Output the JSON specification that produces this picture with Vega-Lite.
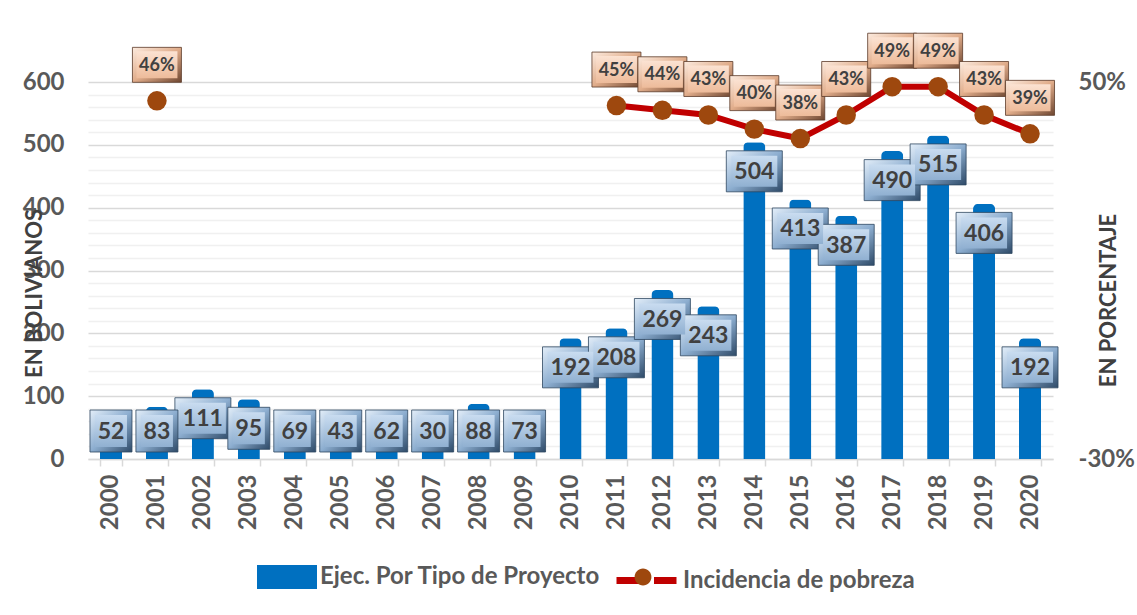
{
  "$schema": "https://vega.github.io/schema/vega-lite/v6.json",
  "width": 965,
  "height": 377,
  "autosize": "none",
  "padding": {"left": 88, "top": 82, "right": 84, "bottom": 156},
  "background": "white",
  "config": {"font": "Lato", "view": {"stroke": null}},
  "data": {
    "values": [
      {"year": 2000, "ejec": 52, "pob": null},
      {"year": 2001, "ejec": 83, "pob": 0.46},
      {"year": 2002, "ejec": 111, "pob": null},
      {"year": 2003, "ejec": 95, "pob": null},
      {"year": 2004, "ejec": 69, "pob": null},
      {"year": 2005, "ejec": 43, "pob": null},
      {"year": 2006, "ejec": 62, "pob": null},
      {"year": 2007, "ejec": 30, "pob": null},
      {"year": 2008, "ejec": 88, "pob": null},
      {"year": 2009, "ejec": 73, "pob": null},
      {"year": 2010, "ejec": 192, "pob": null},
      {"year": 2011, "ejec": 208, "pob": 0.45},
      {"year": 2012, "ejec": 269, "pob": 0.44},
      {"year": 2013, "ejec": 243, "pob": 0.43},
      {"year": 2014, "ejec": 504, "pob": 0.40},
      {"year": 2015, "ejec": 413, "pob": 0.38},
      {"year": 2016, "ejec": 387, "pob": 0.43},
      {"year": 2017, "ejec": 490, "pob": 0.49},
      {"year": 2018, "ejec": 515, "pob": 0.49},
      {"year": 2019, "ejec": 406, "pob": 0.43},
      {"year": 2020, "ejec": 192, "pob": 0.39}
    ]
  },
  "encoding": {
    "x": {
      "field": "year",
      "type": "ordinal",
      "scale": {"paddingInner": 0.52, "paddingOuter": 0.26},
      "axis": {
        "title": null,
        "labelAngle": 270,
        "labelFont": "Lato",
        "labelFontSize": 24,
        "labelFontWeight": "bold",
        "labelColor": "#595959",
        "labelPadding": 8,
        "domainColor": "#D9D9D9",
        "domainWidth": 1.5,
        "tickColor": "#D9D9D9",
        "tickWidth": 1.5,
        "tickSize": 7,
        "tickBand": "extent",
        "grid": false
      }
    }
  },
  "layer": [
    {
      "mark": {"type": "bar", "cornerRadiusTopLeft": 5, "cornerRadiusTopRight": 5},
      "encoding": {
        "y": {
          "field": "ejec",
          "type": "quantitative",
          "scale": {"domain": [0, 600], "nice": false},
          "axis": {
            "orient": "left",
            "title": "EN BOLIVIANOS",
            "values": [0, 20, 40, 60, 80, 100, 120, 140, 160, 180, 200, 220, 240, 260, 280, 300, 320, 340, 360, 380, 400, 420, 440, 460, 480, 500, 520, 540, 560, 580, 600],
            "labelExpr": "datum.value % 100 === 0 ? datum.label : ''",
            "grid": true,
            "gridColor": {"condition": {"test": "datum.value % 100 === 0", "value": "#D9D9D9"}, "value": "#F0F0F0"},
            "gridWidth": 1.5,
            "domain": false,
            "ticks": false,
            "labelPadding": 24,
            "labelFont": "Lato",
            "labelFontSize": 24,
            "labelFontWeight": "bold",
            "labelColor": "#595959",
            "titleFont": "Lato",
            "titleFontSize": 22,
            "titleFontWeight": "bold",
            "titleColor": "#404040",
            "titleAngle": 270,
            "titleX": -54,
            "titleY": 211,
            "titleAlign": "center",
            "titleBaseline": "middle"
          }
        },
        "fill": {
          "datum": "Ejec. Por Tipo de Proyecto",
          "type": "nominal",
          "scale": {"domain": ["Ejec. Por Tipo de Proyecto"], "range": ["#0070C0"]},
          "legend": {
            "orient": "none",
            "legendX": 169,
            "legendY": 465,
            "direction": "horizontal",
            "title": null,
            "labelFont": "Lato",
            "labelFontSize": 24,
            "labelFontWeight": "bold",
            "labelColor": "#595959",
            "labelLimit": 500,
            "labelOffset": 3,
            "symbolSize": 3600,
            "symbolType": "M-1,-0.4L1,-0.4L1,0.4L-1,0.4Z",
            "symbolStrokeWidth": 0,
            "symbolOpacity": 1
          }
        }
      }
    },
    {
      "transform": [{"filter": "datum.year >= 2011"}],
      "mark": {"type": "line", "strokeWidth": 6},
      "encoding": {
        "y": {
          "field": "pob",
          "type": "quantitative",
          "scale": {"domain": [-0.3, 0.5], "nice": false},
          "axis": {
            "orient": "right",
            "title": "EN PORCENTAJE",
            "values": [-0.3, 0.5],
            "format": ".0%",
            "labelExpr": "replace(datum.label, '\u2212', '-')",
            "grid": false,
            "domain": false,
            "ticks": false,
            "labelPadding": 25,
            "labelFont": "Lato",
            "labelFontSize": 24,
            "labelFontWeight": "bold",
            "labelColor": "#595959",
            "titleFont": "Lato",
            "titleFontSize": 22,
            "titleFontWeight": "bold",
            "titleColor": "#404040",
            "titleAngle": 270,
            "titleX": 55,
            "titleY": 218,
            "titleAlign": "center",
            "titleBaseline": "middle"
          }
        },
        "stroke": {
          "datum": "Incidencia de pobreza",
          "type": "nominal",
          "scale": {"domain": ["Incidencia de pobreza"], "range": ["#C00000"]},
          "legend": {
            "orient": "none",
            "legendX": 525,
            "legendY": 465,
            "direction": "horizontal",
            "title": null,
            "labelFont": "Lato",
            "labelFontSize": 24,
            "labelFontWeight": "bold",
            "labelColor": "#595959",
            "labelLimit": 500,
            "labelOffset": 3,
            "symbolSize": 3600,
            "symbolType": "M-1,0L-0.25,0M0.25,0L1,0",
            "symbolStrokeWidth": 7,
            "symbolFillColor": "transparent",
            "symbolOpacity": 1
          }
        }
      }
    },
    {
      "transform": [{"filter": "datum.pob != null"}],
      "mark": {"type": "point", "shape": "circle", "filled": true, "size": 380, "opacity": 1},
      "encoding": {
        "y": {"field": "pob", "type": "quantitative", "scale": {"domain": [-0.3, 0.5], "nice": false}, "axis": null},
        "color": {
          "datum": "Incidencia de pobreza (marcador)",
          "type": "nominal",
          "scale": {"domain": ["Incidencia de pobreza (marcador)"], "range": ["#9E480E"]},
          "legend": {
            "orient": "none",
            "legendX": 525,
            "legendY": 465,
            "direction": "horizontal",
            "title": null,
            "labelExpr": "''",
            "labelFontSize": 24,
            "labelOffset": 0,
            "symbolSize": 3600,
            "symbolType": "M-0.28,0A0.28,0.28,0,1,1,0.28,0A0.28,0.28,0,1,1,-0.28,0Z",
            "symbolStrokeWidth": 0,
            "symbolOpacity": 1
          }
        }
      }
    },
    {
      "transform": [{"filter": "datum.pob != null"}],
      "mark": {
        "type": "point", "shape": "M-1,-0.714L1,-0.714L1,0.714L-1,0.714Z", "size": 2401, "filled": true, "opacity": 1,
        "fill": {"gradient": "linear", "x1": 0, "y1": 0, "x2": 1, "y2": 1, "stops": [{"offset": 0, "color": "#FCEBDF"}, {"offset": 0.5, "color": "#E0AC8A"}, {"offset": 1, "color": "#6E4630"}]},
        "stroke": "#5A3A28", "strokeWidth": 0.8, "yOffset": -36
      },
      "encoding": {
        "y": {"field": "pob", "type": "quantitative", "scale": {"domain": [-0.3, 0.5], "nice": false}, "axis": null}
      }
    },
    {
      "transform": [{"filter": "datum.pob != null"}],
      "mark": {
        "type": "point", "shape": "M-1,-0.659L1,-0.659L1,0.659L-1,0.659Z", "size": 1681, "filled": true, "opacity": 1,
        "fill": {"gradient": "linear", "x1": 0, "y1": 0, "x2": 0, "y2": 1, "stops": [{"offset": 0, "color": "#FBE2D2"}, {"offset": 1, "color": "#EDBB9A"}]},
        "yOffset": -36
      },
      "encoding": {
        "y": {"field": "pob", "type": "quantitative", "scale": {"domain": [-0.3, 0.5], "nice": false}, "axis": null}
      }
    },
    {
      "transform": [{"filter": "datum.pob != null"}],
      "mark": {"type": "text", "font": "Lato", "fontSize": 18, "fontWeight": "bold", "color": "#404040", "baseline": "middle", "yOffset": -35},
      "encoding": {
        "y": {"field": "pob", "type": "quantitative", "scale": {"domain": [-0.3, 0.5], "nice": false}, "axis": null},
        "text": {"field": "pob", "type": "quantitative", "format": ".0%"}
      }
    },
    {
      "transform": [{"filter": "datum.ejec >= 100"}],
      "mark": {
        "type": "point", "shape": "M-1,-0.732L1,-0.732L1,0.732L-1,0.732Z", "size": 3136, "filled": true, "opacity": 1,
        "fill": {"gradient": "linear", "x1": 0, "y1": 0, "x2": 1, "y2": 1, "stops": [{"offset": 0, "color": "#E3EEF9"}, {"offset": 0.5, "color": "#8DAED0"}, {"offset": 1, "color": "#2E4A68"}]},
        "stroke": "#2D4660", "strokeWidth": 0.8, "yOffset": 29
      },
      "encoding": {
        "y": {"field": "ejec", "type": "quantitative", "scale": {"domain": [90.7, 600], "range": [320, 0], "clamp": true, "nice": false}, "axis": null}
      }
    },
    {
      "transform": [{"filter": "datum.ejec >= 100"}],
      "mark": {
        "type": "point", "shape": "M-1,-0.674L1,-0.674L1,0.674L-1,0.674Z", "size": 2116, "filled": true, "opacity": 1,
        "fill": {"gradient": "linear", "x1": 0, "y1": 0, "x2": 0, "y2": 1, "stops": [{"offset": 0, "color": "#C9DCF0"}, {"offset": 1, "color": "#90B0D1"}]},
        "yOffset": 29
      },
      "encoding": {
        "y": {"field": "ejec", "type": "quantitative", "scale": {"domain": [90.7, 600], "range": [320, 0], "clamp": true, "nice": false}, "axis": null}
      }
    },
    {
      "transform": [{"filter": "datum.ejec < 100"}],
      "mark": {
        "type": "point", "shape": "square", "size": 1764, "filled": true, "opacity": 1,
        "fill": {"gradient": "linear", "x1": 0, "y1": 0, "x2": 1, "y2": 1, "stops": [{"offset": 0, "color": "#E3EEF9"}, {"offset": 0.5, "color": "#8DAED0"}, {"offset": 1, "color": "#2E4A68"}]},
        "stroke": "#2D4660", "strokeWidth": 0.8, "yOffset": 29
      },
      "encoding": {
        "y": {"field": "ejec", "type": "quantitative", "scale": {"domain": [90.7, 600], "range": [320, 0], "clamp": true, "nice": false}, "axis": null}
      }
    },
    {
      "transform": [{"filter": "datum.ejec < 100"}],
      "mark": {
        "type": "point", "shape": "square", "size": 1024, "filled": true, "opacity": 1,
        "fill": {"gradient": "linear", "x1": 0, "y1": 0, "x2": 0, "y2": 1, "stops": [{"offset": 0, "color": "#C9DCF0"}, {"offset": 1, "color": "#90B0D1"}]},
        "yOffset": 29
      },
      "encoding": {
        "y": {"field": "ejec", "type": "quantitative", "scale": {"domain": [90.7, 600], "range": [320, 0], "clamp": true, "nice": false}, "axis": null}
      }
    },
    {
      "mark": {"type": "text", "font": "Lato", "fontSize": 23, "fontWeight": "bold", "color": "#404040", "baseline": "middle", "yOffset": 30},
      "encoding": {
        "y": {"field": "ejec", "type": "quantitative", "scale": {"domain": [90.7, 600], "range": [320, 0], "clamp": true, "nice": false}, "axis": null},
        "text": {"field": "ejec", "type": "quantitative"}
      }
    }
  ],
  "resolve": {"scale": {"y": "independent"}}
}
